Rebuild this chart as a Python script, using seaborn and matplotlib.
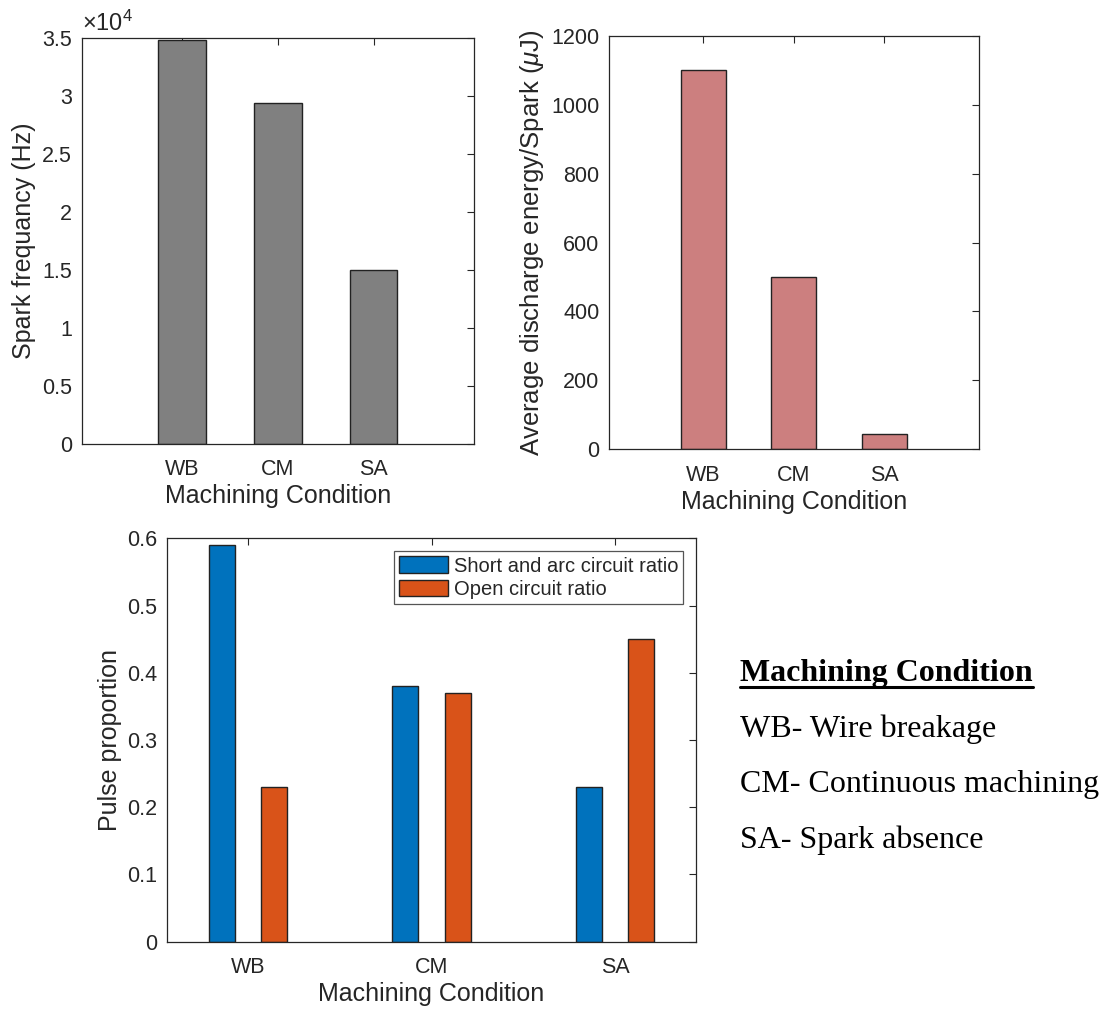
import matplotlib
matplotlib.use("Agg")
import matplotlib.pyplot as plt
import matplotlib.patches as mpatches
from matplotlib.lines import Line2D
from matplotlib.ticker import FuncFormatter
import seaborn as sns
import pandas as pd

# 데이터
conditions = ["WB", "CM", "SA"]
spark_freq = [34800, 29400, 15000]
discharge_energy = [1100, 500, 45]
series_names = ["Short and arc circuit ratio", "Open circuit ratio"]
short_arc_ratio = [0.59, 0.38, 0.23]
open_ratio = [0.23, 0.37, 0.45]
legend_lines = ["WB- Wire breakage", "CM- Continuous machining", "SA- Spark absence"]

gray = "#808080"
rose = "#CC7F7F"
blue = "#0072BD"
orange = "#D95319"
ink = "#262626"

sns.set_style("white")
plt.rcParams["font.family"] = ["Liberation Sans", "DejaVu Sans"]
plt.rcParams["mathtext.fontset"] = "custom"
plt.rcParams["mathtext.rm"] = "Liberation Sans"
plt.rcParams["mathtext.it"] = "Liberation Sans:italic"

fig = plt.figure(figsize=(11.06, 10.10), dpi=100)
ax1 = fig.add_axes([0.0739, 0.5604, 0.3547, 0.4020])
ax2 = fig.add_axes([0.5509, 0.5551, 0.3343, 0.4095])
ax3 = fig.add_axes([0.1513, 0.0676, 0.4778, 0.3994])


def matlab_style(ax):
    for s in ax.spines.values():
        s.set_visible(True)
        s.set_color(ink)
        s.set_linewidth(0.9)
    ax.tick_params(direction="in", length=5, width=0.8, color=ink,
                   top=True, right=True, labelsize=15.5, labelcolor=ink)
    ax.tick_params(axis="y", pad=7)
    ax.tick_params(axis="x", pad=11)
    ax.xaxis.label.set_color(ink)
    ax.yaxis.label.set_color(ink)
    ax.xaxis.labelpad = 3


# 스파크 주파수
sns.barplot(x=conditions, y=spark_freq, color=gray, saturation=1, width=0.5,
            edgecolor="#222222", linewidth=1, ax=ax1)
ax1.set_xlim(-1.05, 3.05)
ax1.set_ylim(0, 35000)
ax1.set_yticks(range(0, 35001, 5000))
ax1.yaxis.set_major_formatter(FuncFormatter(lambda v, p: f"{v / 1e4:g}"))
ax1.set_xlabel("Machining Condition", fontsize=18)
ax1.set_ylabel("Spark frequancy (Hz)", fontsize=18)
ax1.text(0.0, 1.004, r"$\times10^{4}$", transform=ax1.transAxes, fontsize=17,
         color=ink, ha="left", va="bottom")
matlab_style(ax1)

# 평균 방전 에너지
sns.barplot(x=conditions, y=discharge_energy, color=rose, saturation=1, width=0.5,
            edgecolor="#222222", linewidth=1, ax=ax2)
ax2.set_xlim(-1.04, 3.05)
ax2.set_ylim(0, 1200)
ax2.set_yticks(range(0, 1201, 200))
ax2.set_xlabel("Machining Condition", fontsize=18)
ax2.set_ylabel(r"Average discharge energy/Spark ($\mu$J)", fontsize=18.5)
matlab_style(ax2)

# 펄스 비율
df = pd.DataFrame({
    "cond": conditions * 2,
    "val": short_arc_ratio + open_ratio,
    "series": [series_names[0]] * 3 + [series_names[1]] * 3,
})
sns.barplot(data=df, x="cond", y="val", hue="series", palette=[blue, orange],
            saturation=1, width=0.572, gap=0.5, edgecolor="#222222", linewidth=1,
            legend=False, ax=ax3)
ax3.set_xlim(-0.44, 2.44)
ax3.set_ylim(0, 0.6)
ax3.set_yticks([0, 0.1, 0.2, 0.3, 0.4, 0.5, 0.6])
ax3.yaxis.set_major_formatter(FuncFormatter(lambda v, p: f"{v:g}"))
ax3.set_xlabel("Machining Condition", fontsize=18)
ax3.set_ylabel("Pulse proportion", fontsize=18)
matlab_style(ax3)

handles = [mpatches.Patch(facecolor=c, edgecolor="#222222", linewidth=1, label=n)
           for c, n in zip([blue, orange], series_names)]
leg = ax3.legend(handles=handles, loc="upper right", bbox_to_anchor=(0.976, 0.968),
                 borderaxespad=0, fontsize=14.5, frameon=True, fancybox=False,
                 framealpha=1, handlelength=2.4, handleheight=0.9,
                 handletextpad=0.3, labelspacing=0.2, borderpad=0.25)
leg.get_frame().set_edgecolor("#555555")
leg.get_frame().set_linewidth(0.9)
for t in leg.get_texts():
    t.set_color(ink)

# 오른쪽 설명 텍스트
serif = ["Liberation Serif", "DejaVu Serif"]
title = fig.text(0.669, 1 - 681 / 1010, "Machining Condition", family=serif,
                 fontsize=23, fontweight="bold", color="black",
                 ha="left", va="baseline")
for i, line in enumerate(legend_lines):
    fig.text(0.669, 1 - (737 + 55.3 * i) / 1010, line, family=serif,
             fontsize=23, color="black", ha="left", va="baseline")

fig.canvas.draw()
bb = title.get_window_extent(fig.canvas.get_renderer())
uy = 1 - 687 / 1010
fig.add_artist(Line2D([bb.x0 / fig.bbox.width, bb.x1 / fig.bbox.width], [uy, uy],
                      transform=fig.transFigure, color="black", linewidth=2.2))

fig.savefig("out.png", dpi=100)
